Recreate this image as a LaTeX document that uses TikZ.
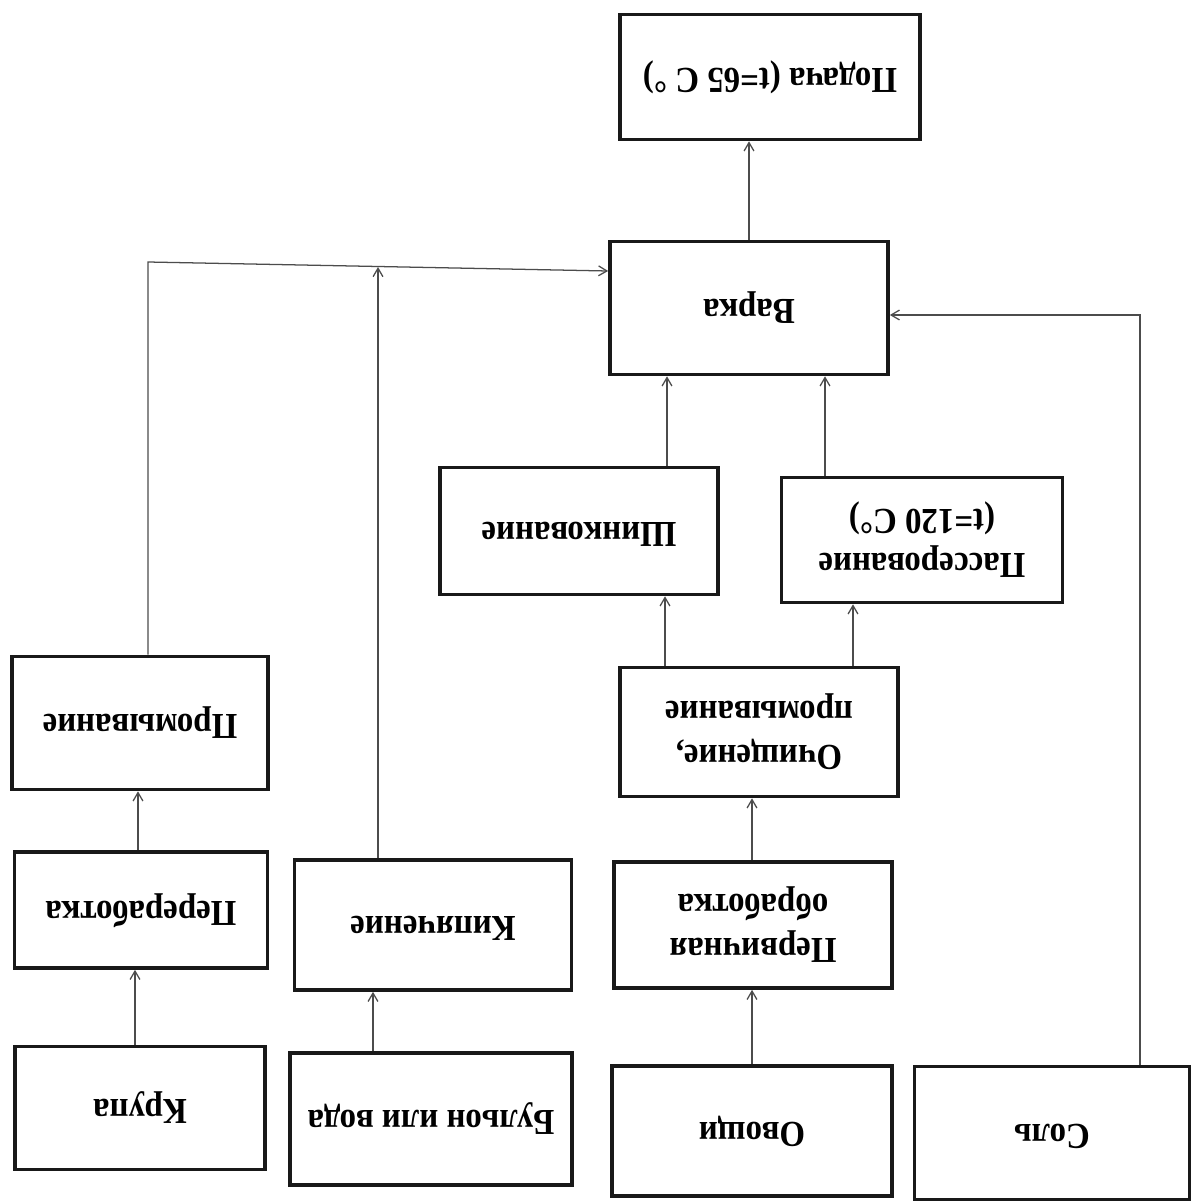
\documentclass[tikz,border=0pt]{standalone}
\usepackage{fontspec}
\usepackage{graphicx}
\setmainfont{Liberation Serif}
\usetikzlibrary{arrows.meta,calc}
\tikzset{
  x=0.025cm, y=-0.025cm,
  box/.style={draw=black!90, line width=2.6pt, fill=white, inner sep=0pt,
    font=\fontsize{26}{31}\selectfont\bfseries, align=center},
  arr/.style={draw=black!70, line width=0.9pt, -{Straight Barb[length=6pt,width=7pt]}},
  ln/.style={draw=black!70, line width=0.9pt}
}
\newcommand{\flip}[1]{\rotatebox{180}{\scalebox{0.9}[1.0]{\begin{tabular}{@{}c@{}}#1\end{tabular}}}}
\begin{document}
\begin{tikzpicture}
\useasboundingbox[fill=white] (0,0) rectangle (1193,1202);
% boxes
\node[box, minimum width=300*0.025cm, minimum height=125*0.025cm] (pod) at (770,77) {\flip{Подача (t=65 C °)}};
\node[box, minimum width=278*0.025cm, minimum height=133*0.025cm] (varka) at (749,308) {\flip{Варка}};
\node[box, minimum width=278*0.025cm, minimum height=127*0.025cm] (shink) at (579,531) {\flip{Шинкование}};
\node[box, minimum width=281*0.025cm, minimum height=125*0.025cm] (pass) at (922,540) {\flip{Пассерование\\(t=120 C°)}};
\node[box, minimum width=278*0.025cm, minimum height=129*0.025cm] (ochi) at (759,732) {\flip{Очищение,\\промывание}};
\node[box, minimum width=256*0.025cm, minimum height=133*0.025cm] (prom) at (140,723) {\flip{Промывание}};
\node[box, minimum width=253*0.025cm, minimum height=116*0.025cm] (perer) at (141,910) {\flip{Переработка}};
\node[box, minimum width=277*0.025cm, minimum height=130*0.025cm] (kip) at (433,925) {\flip{Кипячение}};
\node[box, minimum width=278*0.025cm, minimum height=126*0.025cm] (perv) at (753,925) {\flip{Первичная\\обработка}};
\node[box, minimum width=250*0.025cm, minimum height=123*0.025cm] (krupa) at (140,1108) {\flip{Крупа}};
\node[box, minimum width=282*0.025cm, minimum height=132*0.025cm] (bul) at (431,1119) {\flip{Бульон или вода}};
\node[box, minimum width=280*0.025cm, minimum height=130*0.025cm] (ovo) at (752,1131) {\flip{Овощи}};
\node[box, minimum width=275*0.025cm, minimum height=133*0.025cm] (sol) at (1052,1133) {\flip{Соль}};
% junction coordinates
\coordinate (jL) at (148,262);
\coordinate (jK) at (378,267);
\coordinate (jV) at (600,271);
\coordinate (jR) at (1140,315);
% connectors
\draw[arr] (varka.north) -- (varka.north |- pod.south);
\draw[arr] (prom.north -| jL) -- (jL) -- (varka.west |- jV);
\draw[arr] (kip.north -| jK) -- (jK);
\draw[arr] (sol.north -| jR) -- (jR) -- (varka.east |- jR);
\draw[arr] (shink.north -| 667,0) -- (varka.south -| 667,0);
\draw[arr] (pass.north -| 825,0) -- (varka.south -| 825,0);
\draw[arr] (ochi.north -| 665,0) -- (shink.south -| 665,0);
\draw[arr] (ochi.north -| 853,0) -- (pass.south -| 853,0);
\draw[arr] (perv.north -| 752,0) -- (ochi.south -| 752,0);
\draw[arr] (ovo.north -| 752,0) -- (perv.south -| 752,0);
\draw[arr] (bul.north -| 373,0) -- (kip.south -| 373,0);
\draw[arr] (krupa.north -| 135,0) -- (perer.south -| 135,0);
\draw[arr] (perer.north -| 138,0) -- (prom.south -| 138,0);
\end{tikzpicture}
\end{document}
